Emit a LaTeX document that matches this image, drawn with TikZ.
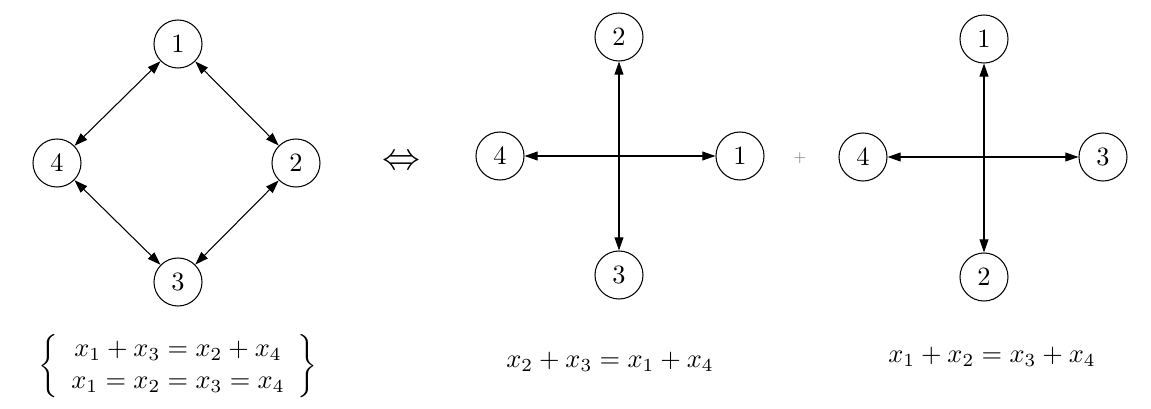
\documentclass[tikz,border=0pt]{standalone}
\usetikzlibrary{arrows.meta, positioning, calc}

\begin{document}
\begin{tikzpicture}[
  x=0.379pt, y=-0.379pt,
  >={Triangle[length=5pt,width=3.4pt]},
  vertex/.style={
    draw,
    circle,
    inner sep=0pt,
    minimum size=18.2pt
  },
  link/.style={<->},
  plus/.style={gray, font=\tiny}
]

\useasboundingbox (0,0) rectangle (1151,409);

% Graphe de gauche (losange)
\node[vertex] (l1) at (178,44)  {1};
\node[vertex] (l4) at (57,163)  {4};
\node[vertex] (l2) at (296,163) {2};
\node[vertex] (l3) at (178,282) {3};

\draw[link] (l1) -- (l4);
\draw[link] (l1) -- (l2);
\draw[link] (l4) -- (l3);
\draw[link] (l2) -- (l3);

\node[font=\Large] (equiv) at (401,163) {$\Leftrightarrow$};

% Premiere croix
\node[vertex] (m2) at (619,37)  {2};
\node[vertex] (m4) at (500,156) {4};
\node[vertex] (m1) at (740,156) {1};
\node[vertex] (m3) at (619,275) {3};

\draw[link] (m4) -- (m1);
\draw[link] (m2) -- (m3);

\node[plus] (sum) at (800,158) {$+$};

% Seconde croix
\node[vertex] (r1) at (984,39)  {1};
\node[vertex] (r4) at (863,157) {4};
\node[vertex] (r3) at (1103,157) {3};
\node[vertex] (r2) at (984,277) {2};

\draw[link] (r4) -- (r3);
\draw[link] (r1) -- (r2);

% Equations
\node (eql) at (178,366)
  {$\left\{\begin{array}{c}
     x_1+x_3=x_2+x_4\\
     x_1=x_2=x_3=x_4
   \end{array}\right\}$};
\node (eqm) at (610,362) {$x_2+x_3=x_1+x_4$};
\node (eqr) at (992,357) {$x_1+x_2=x_3+x_4$};

\end{tikzpicture}
\end{document}
